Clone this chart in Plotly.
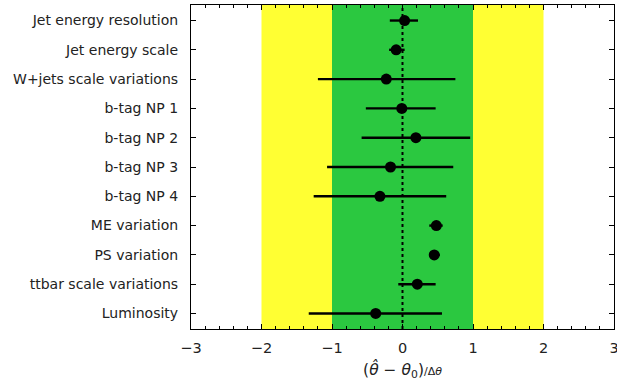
import plotly.graph_objects as go

labels = ["Jet energy resolution", "Jet energy scale", "W+jets scale variations",
          "b-tag NP 1", "b-tag NP 2", "b-tag NP 3", "b-tag NP 4",
          "ME variation", "PS variation", "ttbar scale variations", "Luminosity"]
pulls = [0.03, -0.09, -0.23, -0.01, 0.19, -0.17, -0.32, 0.48, 0.45, 0.21, -0.38]
err_lo = [-0.18, -0.19, -1.20, -0.52, -0.58, -1.07, -1.26, 0.38, 0.38, -0.06, -1.33]
err_hi = [0.22, 0.03, 0.75, 0.47, 0.96, 0.72, 0.62, 0.57, 0.53, 0.47, 0.56]
x_ticks = [-3, -2, -1, 0, 1, 2, 3]
x_ticktext = ["\u22123", "\u22122", "\u22121", "0", "1", "2", "3"]

n = len(labels)
ypos = list(range(n - 1, -1, -1))
plus = [h - p for h, p in zip(err_hi, pulls)]
minus = [p - l for l, p in zip(err_lo, pulls)]

fig = go.Figure()
fig.add_trace(go.Scatter(
    x=pulls, y=ypos, mode="markers",
    marker=dict(color="black", size=11),
    error_x=dict(type="data", symmetric=False, array=plus, arrayminus=minus,
                 color="black", thickness=2.4, width=0),
    showlegend=False, hoverinfo="x+y"))

shapes = [
    dict(type="rect", xref="x", yref="paper", x0=-2, x1=2, y0=0, y1=1,
         fillcolor="#FFFF33", line_width=0, layer="below"),
    dict(type="rect", xref="x", yref="paper", x0=-1, x1=1, y0=0, y1=1,
         fillcolor="#2BC840", line_width=0, layer="below"),
    dict(type="line", xref="x", yref="paper", x0=0, x1=0, y0=0, y1=1,
         line=dict(color="black", width=2, dash="dot"), layer="below"),
]

font = dict(family="DejaVu Sans", size=14, color="#222222")
fig.update_layout(
    width=617, height=385,
    margin=dict(l=191, r=3, t=5, b=56, autoexpand=False),
    plot_bgcolor="white", paper_bgcolor="white",
    shapes=shapes, font=font,
    xaxis=dict(range=[-3, 3], tickvals=x_ticks, ticktext=x_ticktext, automargin=False,
               ticks="inside", ticklen=5, tickcolor="black", mirror="allticks",
               showline=True, linecolor="black", linewidth=1.2, showgrid=False,
               zeroline=False, tickfont=dict(size=14.5), ticklabelstandoff=5,
               ticklabeloverflow="allow",
               minor=dict(dtick=0.2, ticks="inside", ticklen=3, tickcolor="black", showgrid=False),
               title=dict(text="(<i>\u03b8\u0302</i> \u2212 <i>\u03b8</i><sub>0</sub>)<span style='font-size:11px'>/\u0394<i>\u03b8</i></span>",
                          font=dict(size=15.5), standoff=9)),
    yaxis=dict(range=[-0.53, n - 0.47], tickvals=ypos, ticktext=labels, automargin=False,
               ticks="inside", ticklen=5, tickcolor="black", mirror="allticks",
               showline=True, linecolor="black", linewidth=1.2, showgrid=False,
               zeroline=False, ticklabelstandoff=9),
)

fig.write_html("out.html", config={"displayModeBar": False},
               post_script="document.body.style.margin='0';document.body.style.overflow='hidden';")
